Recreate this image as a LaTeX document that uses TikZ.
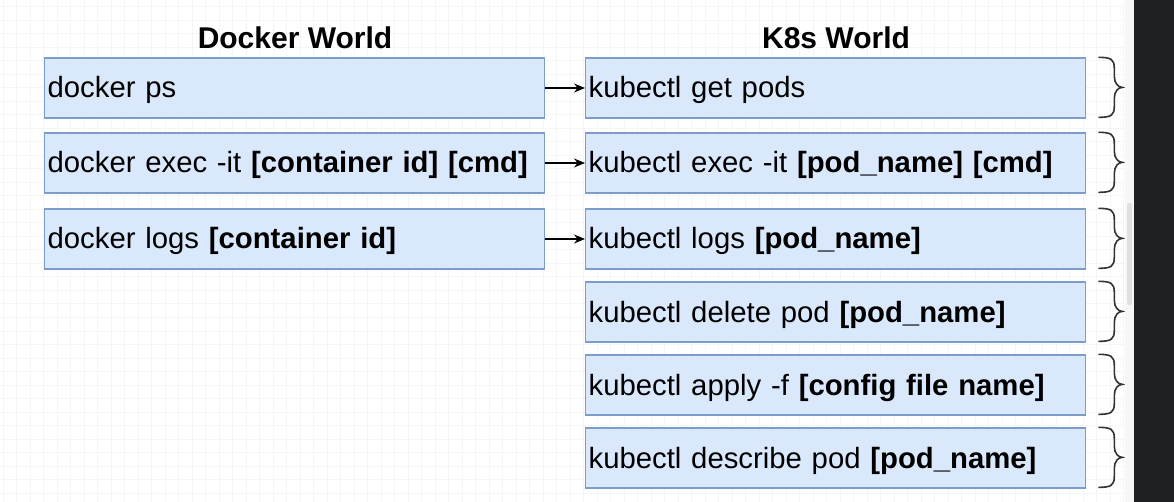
\documentclass[tikz,border=0pt]{standalone}
\usepackage{fontspec}
\setmainfont{Liberation Sans}
\usetikzlibrary{arrows.meta}

\definecolor{boxfill}{HTML}{DAE8FC}
\definecolor{boxline}{HTML}{7C9CCB}
\definecolor{panel}{HTML}{1F2023}

\tikzset{
  cmdbox/.style={draw=boxline, fill=boxfill, line width=1.3pt, minimum height=60pt,
    text width=494pt, inner xsep=3pt, align=left, anchor=west,
    text height=22pt, text depth=2pt, font=\fontsize{29.3}{34}\selectfont},
  heading/.style={font=\fontsize{30}{34}\selectfont\bfseries},
  maps/.style={-{Stealth[length=11pt,width=9pt]}, line width=1.4pt},
  curly/.style={line width=1.6pt, draw=black!80},
  gridline/.style={draw=black!4, line width=1pt}
}

\begin{document}
\begin{tikzpicture}[x=1pt,y=-1pt]

        \useasboundingbox (0,0) rectangle (1174,502);

        % Background grid
        \foreach \gx in {3,16.5,...,1125} \draw[gridline] (\gx,0) -- (\gx,502);
        \foreach \gy in {7,20.5,...,502} \draw[gridline] (0,\gy) -- (1125,\gy);

        % Titles
        \node[heading] (dockertitle) at (295,38) {Docker World};
        \node[heading] (k8stitle) at (836,38) {K8s World};

        % Docker commands
        \node[cmdbox] (docker1) at (44,88) {docker ps};
        \node[cmdbox] (docker2) at (44,163) {docker exec -it \textbf{[container id] [cmd]}};
        \node[cmdbox] (docker3) at (44,239) {docker logs \textbf{[container id]}};

        % K8s commands
        \node[cmdbox] (kube1) at (585,88) {kubectl get pods};
        \node[cmdbox] (kube2) at (585,163) {kubectl exec -it \textbf{[pod\_name] [cmd]}};
        \node[cmdbox] (kube3) at (585,239) {kubectl logs \textbf{[pod\_name]}};
        \node[cmdbox] (kube4) at (585,312) {kubectl delete pod \textbf{[pod\_name]}};
        \node[cmdbox] (kube5) at (585,385) {kubectl apply -f \textbf{[config file name]}};
        \node[cmdbox] (kube6) at (585,458) {kubectl describe pod \textbf{[pod\_name]}};

        % Arrows
        \draw[maps] (docker1) -- (kube1);
        \draw[maps] (docker2) -- (kube2);
        \draw[maps] (docker3) -- (kube3);

        % Braces
        \foreach \k in {1,...,6}
          \draw[curly] ([xshift=12pt]kube\k.north east)
            .. controls +(13,0) and +(0,-9) .. ++(16,11) -- ++(0,8)
            .. controls +(0,7) and +(-4,0) .. ++(8,11)
            .. controls +(-4,0) and +(0,-7) .. ++(-8,11) -- ++(0,8)
            .. controls +(0,9) and +(13,0) .. ++(-16,11);

        % Right side panel
        \fill[black!3] (1125,0) rectangle (1134,502);
        \fill[black!12, rounded corners=2pt] (1127,203) rectangle (1132,305);
        \fill[panel] (1134,0) rectangle (1174,502);

\end{tikzpicture}
\end{document}
